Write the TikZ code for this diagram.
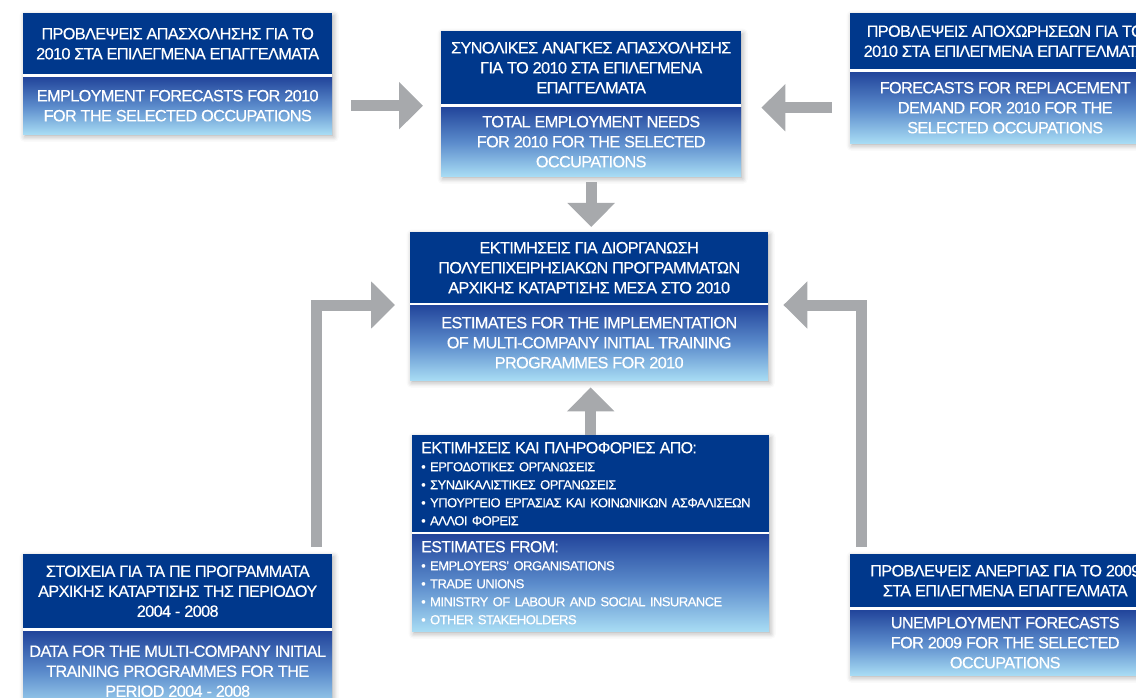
\documentclass[tikz,border=0pt]{standalone}
\usepackage{fontspec}
\setmainfont{Liberation Sans}
\newfontfamily\gr[LetterSpace=-4,FakeBold=0.4]{Liberation Sans}
\usetikzlibrary{arrows.meta,shadows.blur,backgrounds,calc}
\definecolor{navy}{HTML}{00388C}
\definecolor{gtop}{HTML}{22459B}
\definecolor{gmid}{HTML}{5A8ACB}
\definecolor{gbot}{HTML}{A8DCF4}
\definecolor{arrowgray}{HTML}{A7A9AC}
\begin{document}
\begin{tikzpicture}[x=1pt,y=-1pt,
 hdr/.style={fill=navy,text=white,inner sep=0pt,anchor=north west,align=center,
   font=\gr\fontsize{16.3}{20}\selectfont,minimum width=309pt},
 sub/.style={hdr,fill=none,top color=gtop,bottom color=gbot,middle color=gmid},
 listbox/.style={align=left,inner xsep=9pt,text width=339pt,minimum width=357pt,
   font=\gr\fontsize{13}{18}\selectfont},
 bigarrow/.style={draw=arrowgray,line width=11pt,-{Triangle[width=46pt,length=24pt]}},
 shadowbox/.style={fill=white,blur shadow={shadow xshift=1.5pt,shadow yshift=-2.5pt,
   shadow blur radius=5pt,shadow opacity=30}}
]
\useasboundingbox (0,0) rectangle (1136,698);

% top-left
\node[hdr,minimum height=61pt] (tlt) at (23,13) {ΠΡΟΒΛΕΨΕΙΣ ΑΠΑΣΧΟΛΗΣΗΣ ΓΙΑ ΤΟ\\2010 ΣΤΑ ΕΠΙΛΕΓΜΕΝΑ ΕΠΑΓΓΕΛΜΑΤΑ};
\node[sub,minimum height=57pt] (tlb) at (23,77) {EMPLOYMENT FORECASTS FOR 2010\\FOR THE SELECTED OCCUPATIONS};
% top-middle
\node[hdr,minimum width=300pt,minimum height=73pt] (tmt) at (441,31) {ΣΥΝΟΛΙΚΕΣ ΑΝΑΓΚΕΣ ΑΠΑΣΧΟΛΗΣΗΣ\\ΓΙΑ ΤΟ 2010 ΣΤΑ ΕΠΙΛΕΓΜΕΝΑ\\ΕΠΑΓΓΕΛΜΑΤΑ};
\node[sub,minimum width=300pt,minimum height=69pt] (tmb) at (441,107) {TOTAL EMPLOYMENT NEEDS\\FOR 2010 FOR THE SELECTED\\OCCUPATIONS};
% top-right
\node[hdr,minimum width=310pt,minimum height=56pt] (trt) at (850,13) {ΠΡΟΒΛΕΨΕΙΣ ΑΠΟΧΩΡΗΣΕΩΝ ΓΙΑ ΤΟ\\2010 ΣΤΑ ΕΠΙΛΕΓΜΕΝΑ ΕΠΑΓΓΕΛΜΑΤΑ};
\node[sub,minimum width=310pt,minimum height=71pt] (trb) at (850,72) {FORECASTS FOR REPLACEMENT\\DEMAND FOR 2010 FOR THE\\SELECTED OCCUPATIONS};
% middle
\node[hdr,minimum width=358pt,minimum height=71pt] (mt) at (410,232) {ΕΚΤΙΜΗΣΕΙΣ ΓΙΑ ΔΙΟΡΓΑΝΩΣΗ\\ΠΟΛΥΕΠΙΧΕΙΡΗΣΙΑΚΩΝ ΠΡΟΓΡΑΜΜΑΤΩΝ\\ΑΡΧΙΚΗΣ ΚΑΤΑΡΤΙΣΗΣ ΜΕΣΑ ΣΤΟ 2010};
\node[sub,minimum width=358pt,minimum height=75pt] (mb) at (410,305) {ESTIMATES FOR THE IMPLEMENTATION\\OF MULTI-COMPANY INITIAL TRAINING\\PROGRAMMES FOR 2010};
% bottom-middle
\node[hdr,listbox,minimum height=97pt] (bmt) at (412,435) {{\fontsize{16}{18}\selectfont ΕΚΤΙΜΗΣΕΙΣ ΚΑΙ ΠΛΗΡΟΦΟΡΙΕΣ ΑΠΟ:}\\• ΕΡΓΟΔΟΤΙΚΕΣ ΟΡΓΑΝΩΣΕΙΣ\\• ΣΥΝΔΙΚΑΛΙΣΤΙΚΕΣ ΟΡΓΑΝΩΣΕΙΣ\\• ΥΠΟΥΡΓΕΙΟ ΕΡΓΑΣΙΑΣ ΚΑΙ ΚΟΙΝΩΝΙΚΩΝ ΑΣΦΑΛΙΣΕΩΝ\\• ΑΛΛΟΙ ΦΟΡΕΙΣ};
\node[sub,listbox,minimum height=97pt] (bmb) at (412,534) {{\fontsize{16}{18}\selectfont ESTIMATES FROM:}\\• EMPLOYERS’ ORGANISATIONS\\• TRADE UNIONS\\• MINISTRY OF LABOUR AND SOCIAL INSURANCE\\• OTHER STAKEHOLDERS};
% bottom-left
\node[hdr,minimum height=74pt] (blt) at (23,554) {ΣΤΟΙΧΕΙΑ ΓΙΑ ΤΑ ΠΕ ΠΡΟΓΡΑΜΜΑΤΑ\\ΑΡΧΙΚΗΣ ΚΑΤΑΡΤΙΣΗΣ ΤΗΣ ΠΕΡΙΟΔΟΥ\\2004 - 2008};
\node[sub,minimum height=80pt] (blb) at (23,631) {DATA FOR THE MULTI-COMPANY INITIAL\\TRAINING PROGRAMMES FOR THE\\PERIOD 2004 - 2008};
% bottom-right
\node[hdr,minimum width=310pt,minimum height=53pt] (brt) at (850,554) {ΠΡΟΒΛΕΨΕΙΣ ΑΝΕΡΓΙΑΣ ΓΙΑ ΤΟ 2009\\ΣΤΑ ΕΠΙΛΕΓΜΕΝΑ ΕΠΑΓΓΕΛΜΑΤΑ};
\node[sub,minimum width=310pt,minimum height=65pt] (brb) at (850,610) {UNEMPLOYMENT FORECASTS\\FOR 2009 FOR THE SELECTED\\OCCUPATIONS};

\begin{scope}[on background layer]
\path[shadowbox] (tlt.north west) rectangle (tlb.south east);
\path[shadowbox] (tmt.north west) rectangle (tmb.south east);
\path[shadowbox] (trt.north west) rectangle (trb.south east);
\path[shadowbox] (mt.north west) rectangle (mb.south east);
\path[shadowbox] (bmt.north west) rectangle (bmb.south east);
\path[shadowbox] (blt.north west) rectangle (blb.south east);
\path[shadowbox] (brt.north west) rectangle (brb.south east);
\end{scope}

% arrows
\draw[bigarrow] ($(tlb.east)+(19,0)$) -- ($(tlb.east -| tmt.west)+(-18,0)$);
\draw[bigarrow] ($(trb.west)+(-18,0)$) -- ($(trb.west -| tmt.east)+(20,0)$);
\draw[bigarrow] ($(tmb.south)+(0,6)$) -- ($(tmb.south |- mt.north)+(0,-5)$);
\draw[bigarrow] (bmt.north) -- ($(bmt.north |- mb.south)+(0,7)$);
\draw[bigarrow] ($(blt.north east)+(-15.5,-7)$) |- ($(mb.north west)+(-15,0)$);
\draw[bigarrow] ($(brt.north west)+(11,-7)$) |- ($(mb.north east)+(15,0)$);
\end{tikzpicture}
\end{document}
